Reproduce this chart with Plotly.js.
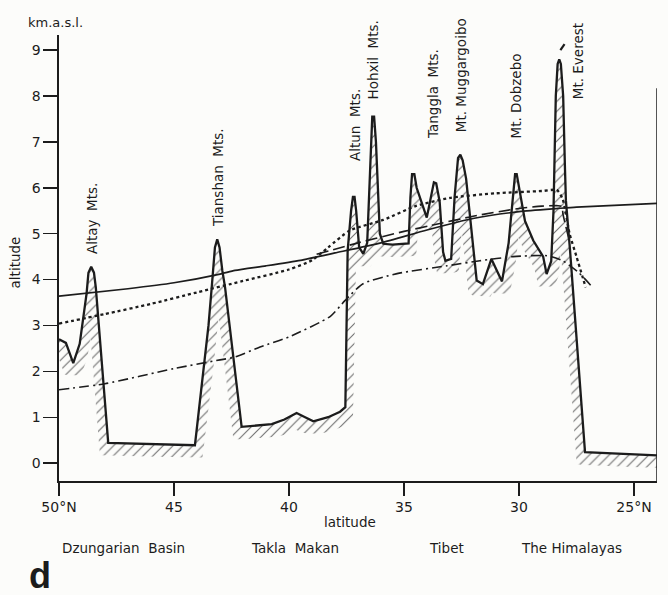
<!DOCTYPE html>
<html>
<head>
<meta charset="utf-8">
<script src="https://cdn.plot.ly/plotly-3.0.1.min.js"></script>
<style>html,body{margin:0;padding:0;background:#fcfcfa;}#chart{width:668px;height:595px;}</style>
</head>
<body>
<div id="chart"></div>
<script>
// Terrain profile (latitude °N, altitude km a.s.l.)
const profileLat = [50.0, 49.7, 49.38, 49.1, 48.8, 48.72, 48.6, 48.48, 48.4, 47.86, 44.09, 43.5, 43.36, 43.22, 43.12, 43.02, 42.9, 42.78, 42.06, 40.75, 40.2, 39.67, 39.3, 38.94, 38.3, 37.78, 37.55, 37.45, 37.3, 37.22, 37.15, 37.08, 36.95, 36.77, 36.6, 36.45, 36.38, 36.3, 36.22, 36.05, 35.9, 35.5, 34.8, 34.72, 34.65, 34.55, 34.45, 34.01, 33.8, 33.7, 33.6, 33.45, 33.3, 33.2, 32.95, 32.8, 32.65, 32.55, 32.45, 32.3, 31.84, 31.57, 31.2, 30.74, 30.45, 30.25, 30.17, 30.1, 30.0, 29.74, 29.38, 29.09, 28.95, 28.8, 28.6, 28.5, 28.4, 28.32, 28.25, 28.18, 28.08, 28.0, 27.96, 27.78, 27.13, 24.0];
const profileAlt = [2.70, 2.62, 2.18, 2.6, 3.7, 4.15, 4.28, 4.15, 3.83, 0.44, 0.39, 3.0, 3.83, 4.7, 4.88, 4.7, 4.2, 3.83, 0.79, 0.85, 0.95, 1.09, 1.0, 0.91, 1.0, 1.12, 1.22, 4.63, 5.5, 5.8, 5.8, 5.5, 4.7, 4.56, 4.8, 7.0, 7.55, 7.55, 7.0, 5.0, 4.78, 4.76, 4.79, 5.8, 6.3, 6.3, 6.0, 5.35, 5.9, 6.12, 6.1, 5.7, 4.6, 4.41, 4.45, 5.8, 6.65, 6.72, 6.6, 6.2, 3.98, 3.9, 4.45, 3.96, 4.8, 6.0, 6.3, 6.3, 6.0, 5.28, 4.85, 4.63, 4.5, 4.12, 4.4, 5.5, 8.0, 8.7, 8.8, 8.7, 8.0, 6.4, 5.72, 4.63, 0.24, 0.17];

// Solid line
const solidLat = [50.0, 47.0, 45.0, 43.0, 42.35, 41.0, 39.5, 38.0, 36.0, 34.0, 32.0, 30.0, 28.3, 27.5, 24.0];
const solidAlt = [3.64, 3.80, 3.93, 4.12, 4.20, 4.30, 4.42, 4.58, 4.80, 5.08, 5.33, 5.48, 5.55, 5.58, 5.66];

// Dotted line
const dottedLat = [50.0, 48.0, 46.0, 44.0, 42.0, 40.0, 39.0, 38.3, 37.35, 35.9, 34.5, 33.0, 31.0, 29.0, 28.35, 28.1, 27.8, 27.5, 27.1];
const dottedAlt = [3.04, 3.25, 3.47, 3.72, 3.97, 4.22, 4.42, 4.7, 5.07, 5.3, 5.6, 5.78, 5.88, 5.93, 5.95, 5.75, 5.0, 4.5, 3.83];

// Long-dashed line
const dashedLat = [38.8, 37.0, 35.0, 33.9, 32.0, 30.0, 29.0, 28.3, 28.13, 28.09, 27.78];
const dashedAlt = [4.55, 4.80, 5.05, 5.17, 5.38, 5.55, 5.60, 5.61, 5.59, 5.43, 4.78];

// Dash-dot line
const dashdotLat = [50.0, 48.0, 45.0, 43.0, 42.35, 41.26, 40.0, 38.2, 37.57, 36.78, 35.3, 33.13, 31.7, 30.26, 28.78, 28.1, 27.4, 26.8];
const dashdotAlt = [1.60, 1.73, 2.06, 2.25, 2.31, 2.53, 2.75, 3.20, 3.54, 3.91, 4.13, 4.30, 4.41, 4.50, 4.52, 4.41, 4.15, 3.83];

// Peak labels: [text, latitude, altitude at text bottom]
const peakNames = ["Altay\u00A0 Mts.", "Tianshan\u00A0 Mts.", "Altun\u00A0 Mts.", "Hohxil\u00A0 Mts.", "Tanggla\u00A0 Mts.", "Mt. Muggargoibo", "Mt. Dobzebo", "Mt. Everest"];
const peakLat = [48.57, 43.09, 37.13, 36.35, 33.74, 32.52, 30.13, 27.43];
const peakLabelAlt = [4.52, 5.11, 6.54, 7.89, 7.02, 7.17, 7.02, 7.89];

// Region labels
const regionNames = ["Dzungarian\u00A0 Basin", "Takla\u00A0 Makan", "Tibet", "The Himalayas"];
const regionLat = [47.2, 39.75, 33.17, 27.7];

const xTickVals = [50, 45, 40, 35, 30, 25];
const xTickText = ["50°N", "45", "40", "35", "30", "25°N"];
const yTickVals = [0, 1, 2, 3, 4, 5, 6, 7, 8, 9];

// --- hatched band below the terrain surface (erosion of the profile) ---
function interp(xs, ys, x) {
  for (let i = 0; i < xs.length - 1; i++) {
    const a = xs[i], b = xs[i + 1];
    if ((x <= a && x >= b) || (x >= a && x <= b)) {
      const t = (a === b) ? 0 : (x - a) / (b - a);
      return ys[i] + t * (ys[i + 1] - ys[i]);
    }
  }
  return ys[ys.length - 1];
}
const step = 0.01;
const sLat = [], sUp = [];
for (let x = 50; x >= 24 - 1e-9; x -= step) {
  const xx = Math.round(x * 1000) / 1000;
  sLat.push(xx); sUp.push(interp(profileLat, profileAlt, xx));
}
profileLat.forEach((lx, i) => { sLat.push(lx); sUp.push(profileAlt[i]); });
const order = sLat.map((v, i) => i).sort((a, b) => sLat[b] - sLat[a]);
const uLat = order.map(i => sLat[i]), uAlt = order.map(i => sUp[i]);
const w = 0.36, d = 0.27;
const lowAlt = uLat.map((lx, i) => {
  let m = Infinity;
  for (let j = 0; j < uLat.length; j++) {
    if (Math.abs(uLat[j] - lx) <= w && uAlt[j] < m) m = uAlt[j];
  }
  return m - d;
});
const polyX = uLat.concat(uLat.slice().reverse());
const polyY = uAlt.concat(lowAlt.slice().reverse());

const ink = "#1c1c1c";
const traces = [
  { x: polyX, y: polyY, type: "scatter", mode: "lines", fill: "toself",
    line: { width: 0, color: "rgba(0,0,0,0)" }, fillcolor: "rgba(0,0,0,0)",
    fillpattern: { shape: "/", fgcolor: "#707070", bgcolor: "rgba(0,0,0,0)", size: 7, solidity: 0.16 },
    hoverinfo: "skip", showlegend: false },
  { x: solidLat, y: solidAlt, type: "scatter", mode: "lines", line: { color: ink, width: 1.7, shape: "spline", smoothing: 0.6 }, showlegend: false },
  { x: dottedLat, y: dottedAlt, type: "scatter", mode: "lines", line: { color: ink, width: 2.3, dash: "dot", shape: "spline", smoothing: 0.6 }, showlegend: false },
  { x: dashedLat, y: dashedAlt, type: "scatter", mode: "lines", line: { color: ink, width: 1.6, dash: "12px,5px", shape: "spline", smoothing: 0.6 }, showlegend: false },
  { x: dashdotLat, y: dashdotAlt, type: "scatter", mode: "lines", line: { color: ink, width: 1.6, dash: "10px,4px,2px,4px", shape: "spline", smoothing: 0.6 }, showlegend: false },
  { x: profileLat, y: profileAlt, type: "scatter", mode: "lines", line: { color: ink, width: 2.3 }, showlegend: false }
];

const font = "DejaVu Sans, Liberation Sans, sans-serif";
const annotations = [];
peakNames.forEach((t, i) => annotations.push({
  text: t, x: peakLat[i], y: peakLabelAlt[i], xref: "x", yref: "y",
  textangle: -90, xanchor: "center", yanchor: "bottom", showarrow: false,
  font: { family: font, size: 13.5, color: ink }
}));
regionNames.forEach((t, i) => annotations.push({
  text: t, x: regionLat[i], y: -0.15, xref: "x", yref: "paper",
  xanchor: "center", yanchor: "middle", showarrow: false,
  font: { family: font, size: 13.5, color: ink }
}));
annotations.push({ text: "latitude", x: 0.487, y: -0.092, xref: "paper", yref: "paper", showarrow: false, xanchor: "center", yanchor: "middle", font: { family: font, size: 13.5, color: ink } });
annotations.push({ text: "altitude", x: -0.072, y: 0.49, xref: "paper", yref: "paper", textangle: -90, showarrow: false, xanchor: "center", yanchor: "middle", font: { family: font, size: 13.5, color: ink } });
annotations.push({ text: "km.a.s.l.", x: -0.006, y: 1.027, xref: "paper", yref: "paper", showarrow: false, xanchor: "center", yanchor: "middle", font: { family: font, size: 13, color: ink } });
annotations.push({ text: "<b>d</b>", x: -0.032, y: -0.212, xref: "paper", yref: "paper", showarrow: false, xanchor: "center", yanchor: "middle", font: { family: "Liberation Sans, Arial, sans-serif", size: 36, color: ink } });

const layout = {
  width: 668, height: 595,
  margin: { l: 59, r: 11, t: 35, b: 114 },
  paper_bgcolor: "#fcfcfa", plot_bgcolor: "#fcfcfa",
  showlegend: false,
  xaxis: {
    range: [50, 24], tickvals: xTickVals, ticktext: xTickText,
    showgrid: false, zeroline: false, showline: true, linecolor: ink, linewidth: 1.6,
    ticks: "outside", ticklen: 13, tickwidth: 1.4, tickcolor: ink,
    tickfont: { family: font, size: 14, color: ink }
  },
  yaxis: {
    range: [-0.39, 9.33], tickvals: yTickVals,
    showgrid: false, zeroline: false, showline: true, linecolor: ink, linewidth: 1.6,
    ticks: "outside", ticklen: 14, tickwidth: 1.4, tickcolor: ink,
    tickfont: { family: font, size: 14, color: ink }
  },
  shapes: [
    { type: "line", xref: "x", yref: "y", x0: 24, x1: 24, y0: 8.17, y1: -0.39, line: { color: ink, width: 1.5 } },
    { type: "line", xref: "x", yref: "y", x0: 28.2, x1: 28.02, y0: 9.0, y1: 9.13, line: { color: ink, width: 2.2 } }
  ],
  annotations: annotations
};

Plotly.newPlot("chart", traces, layout, { staticPlot: true, displayModeBar: false });
</script>
</body>
</html>
